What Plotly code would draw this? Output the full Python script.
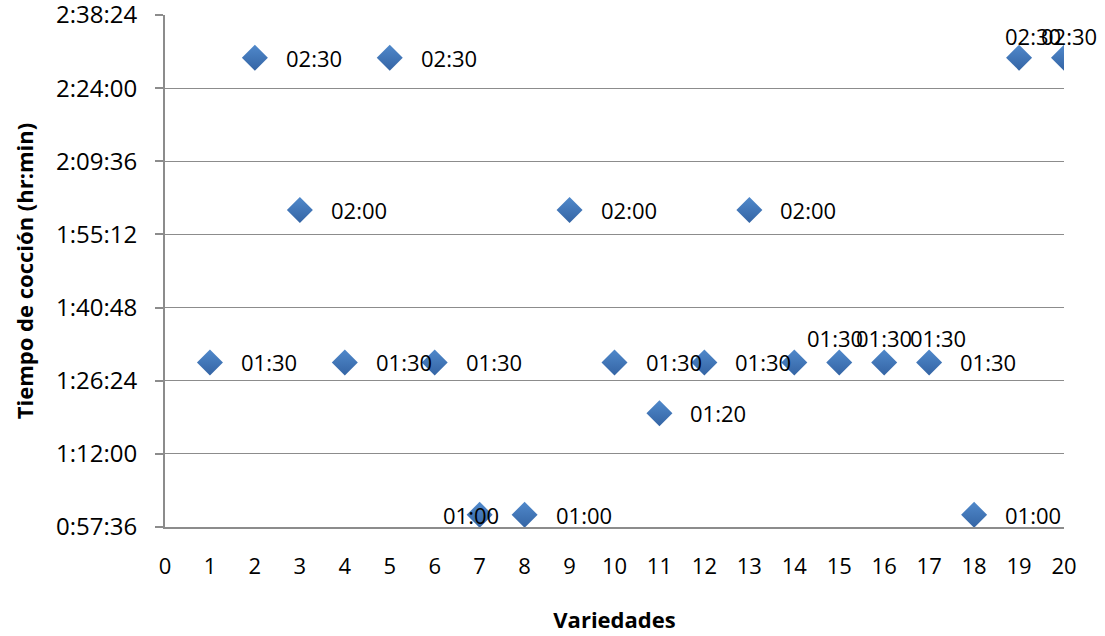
import plotly.graph_objects as go

variedades = list(range(1, 21))
tiempos = ["01:30", "02:30", "02:00", "01:30", "02:30", "01:30", "01:00", "01:00", "02:00", "01:30",
           "01:20", "01:30", "02:00", "01:30", "01:30", "01:30", "01:30", "01:00", "02:30", "02:30"]
# label placement (pixel shifts relative to the marker, as in the reference)
label_dx = [29, 29, 29, 29, 29, 29, -39, 29, 29, 29, 29, 29, 29, 11, 15, 24, 29, 29, -16, -25]
label_dy = [0, 0, 0, 0, 0, 0, 0, 0, 0, 0, 0, 0, 0, 24, 24, 24, 0, 0, 22, 22]

y_ticks_sec = [3456, 4320, 5184, 6048, 6912, 7776, 8640, 9504]
y_tick_text = ["0:57:36", "1:12:00", "1:26:24", "1:40:48", "1:55:12", "2:09:36", "2:24:00", "2:38:24"]
x_ticks = list(range(0, 21))


def to_sec(t):
    h, m = t.split(":")
    return int(h) * 3600 + int(m) * 60


y_sec = [to_sec(t) for t in tiempos]

fig = go.Figure()
fig.add_trace(go.Scatter(
    x=variedades, y=y_sec, mode="markers",
    marker=dict(symbol="diamond", size=20, color="#5089CB",
                gradient=dict(type="vertical", color="#3464A4"),
                line=dict(width=0)),
    hoverinfo="skip", showlegend=False,
))

font = "Open Sans, Liberation Sans, sans-serif"
for x, y, t, dx, dy in zip(variedades, y_sec, tiempos, label_dx, label_dy):
    fig.add_annotation(x=x, y=y, text=t, showarrow=False,
                       xanchor="left", yanchor="middle", xshift=dx, yshift=dy,
                       font=dict(family=font, size=22, color="#000000"))

fig.update_layout(
    width=1105, height=636,
    margin=dict(l=165, r=41, t=15, b=109, autoexpand=False),
    plot_bgcolor="#ffffff", paper_bgcolor="#ffffff",
    font=dict(family=font, size=22, color="#000000"),
    xaxis=dict(range=[0, 20], tickvals=x_ticks, ticktext=[str(v) for v in x_ticks],
               showgrid=False, zeroline=False, showline=True, linecolor="#8c8c8c", linewidth=2,
               ticks="outside", ticklen=19, tickcolor="rgba(0,0,0,0)", automargin=False,
               tickfont=dict(size=22), ticklabeloverflow="allow",
               title=dict(text="<b>Variedades</b>", font=dict(size=22), standoff=33)),
    yaxis=dict(range=[3456, 9504], tickvals=y_ticks_sec, ticktext=y_tick_text,
               showgrid=True, gridcolor="#8c8c8c", gridwidth=1.3, zeroline=False,
               showline=True, linecolor="#8c8c8c", linewidth=2, automargin=False,
               ticks="outside", ticklen=8, tickcolor="#8c8c8c", tickwidth=1.5,
               ticklabelstandoff=13, tickfont=dict(size=24), ticklabeloverflow="allow",
               title=dict(text="<b>Tiempo de cocción (hr:min)</b>", font=dict(size=22), standoff=16)),
)

fig.write_html("out.html", config={"displayModeBar": False},
               post_script="document.body.style.margin='0';")
